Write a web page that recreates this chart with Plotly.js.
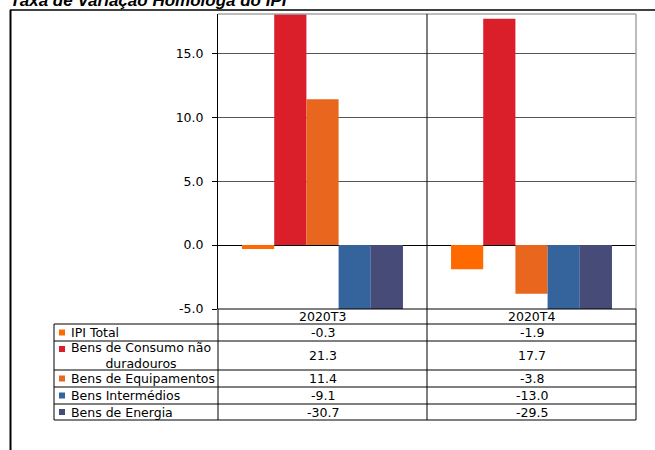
<!DOCTYPE html>
<html>
<head>
<meta charset="utf-8">
<script src="https://cdn.plot.ly/plotly-3.0.1.min.js"></script>
<style>html,body{margin:0;padding:0;background:#fff;}#chart{width:655px;height:450px;}</style>
</head>
<body>
<div id="chart"></div>
<script>
// ---- data ----
const categories = ['2020T3', '2020T4'];
const seriesNames = ['IPI Total', 'Bens de Consumo não duradouros', 'Bens de Equipamentos', 'Bens Intermédios', 'Bens de Energia'];
const tableLabels = ['IPI Total', 'Bens de Consumo não<br>duradouros', 'Bens de Equipamentos', 'Bens Intermédios', 'Bens de Energia'];
const ipiTotal = [-0.3, -1.9];
const bensConsumo = [21.3, 17.7];
const bensEquipamentos = [11.4, -3.8];
const bensIntermedios = [-9.1, -13.0];
const bensEnergia = [-30.7, -29.5];
const tickVals = [-5, 0, 5, 10, 15];
const titleText = 'Taxa de Variação Homóloga do IPI';
const colors = ['#FF6A00', '#DB1F2A', '#E9661F', '#35639B', '#474B78'];

const seriesValues = [ipiTotal, bensConsumo, bensEquipamentos, bensIntermedios, bensEnergia];

// ---- layout geometry (pixels) ----
const W = 655, H = 450;
const L = 218, R = 636, T = 14, B = 309;
const PW = R - L, PH = B - T;
const px = x => (x - L) / PW;
const py = y => (B - y) / PH;
const FONT = 'DejaVu Sans, Liberation Sans, Arial, sans-serif';
const FS = 12.5;

const traces = seriesValues.map((vals, i) => ({
  type: 'bar',
  name: seriesNames[i],
  x: categories,
  y: vals,
  marker: {color: colors[i], line: {width: 0}},
  hoverinfo: 'x+y+name'
}));

const shapes = [];
const annotations = [];
function line(x0, y0, x1, y1, color, width) {
  shapes.push({type: 'line', xref: 'paper', yref: 'paper', x0: px(x0), y0: py(y0), x1: px(x1), y1: py(y1),
    line: {color: color, width: width}, layer: 'above'});
}

// outer frame
line(10, 10, 655, 10, '#000', 1.5);
line(10.5, 10, 10.5, 450, '#000', 2);

// plot border top/right (grey)
line(L, T, R, T, '#A6A6A6', 1.5);
line(R, T, R, B, '#A6A6A6', 1.5);

// category divider (data coords between categories)
shapes.push({type: 'line', xref: 'x', yref: 'paper', x0: 0.5, x1: 0.5, y0: py(420), y1: py(T),
  line: {color: '#000', width: 1}, layer: 'above'});

// table
const rowEdges = [324, 341, 370, 387, 404, 420];
line(L, B, R, B, '#000', 1);
rowEdges.forEach(y => line(54, y, R, y, '#000', 1));
line(54, 324, 54, 420, '#000', 1);
line(L, B, L, 420, '#000', 1);
line(R, B, R, 420, '#000', 1);

// header labels
const colCenters = [322.5, 531.5];
categories.forEach((c, j) => {
  annotations.push({xref: 'paper', yref: 'paper', x: px(colCenters[j]), y: py(316.5), text: c,
    showarrow: false, xanchor: 'center', yanchor: 'middle', font: {family: FONT, size: FS, color: '#000'}});
});

// rows
for (let i = 0; i < seriesNames.length; i++) {
  const yc = (rowEdges[i] + rowEdges[i + 1]) / 2;
  const twoLine = tableLabels[i].indexOf('<br>') >= 0;
  const sqY = twoLine ? rowEdges[i] + 8 : yc;
  shapes.push({type: 'rect', xref: 'paper', yref: 'paper', x0: px(59), x1: px(65), y0: py(sqY - 3), y1: py(sqY + 3),
    fillcolor: colors[i], line: {width: 0}, layer: 'above'});
  if (twoLine) {
    annotations.push({xref: 'paper', yref: 'paper', x: px(141), y: py(yc), text: tableLabels[i],
      showarrow: false, xanchor: 'center', yanchor: 'middle', align: 'center',
      font: {family: FONT, size: FS, color: '#000'}});
  } else {
    annotations.push({xref: 'paper', yref: 'paper', x: px(69), y: py(yc), text: tableLabels[i],
      showarrow: false, xanchor: 'left', yanchor: 'middle', font: {family: FONT, size: FS, color: '#000'}});
  }
  seriesValues[i].forEach((v, j) => {
    annotations.push({xref: 'paper', yref: 'paper', x: px(colCenters[j]), y: py(yc), text: v.toFixed(1),
      showarrow: false, xanchor: 'center', yanchor: 'middle', font: {family: FONT, size: FS, color: '#000'}});
  });
}

// title (cut off at top, as in the reference)
annotations.push({xref: 'paper', yref: 'paper', x: px(8), y: py(0.5), text: '<b><i>' + titleText + '</i></b>',
  showarrow: false, xanchor: 'left', yanchor: 'middle',
  font: {family: 'Liberation Sans, Arial, sans-serif', size: 17, color: '#000'}});

const layout = {
  width: W, height: H,
  margin: {l: L, r: W - R, t: T, b: H - B, pad: 0},
  paper_bgcolor: '#fff', plot_bgcolor: '#fff',
  barmode: 'group', bargap: 0.23, bargroupgap: 0,
  showlegend: false,
  xaxis: {type: 'category', range: [-0.5, 1.5], showticklabels: false, showgrid: false, zeroline: false,
    showline: false, ticks: '', fixedrange: true},
  yaxis: {range: [-5, 18.07], tickvals: tickVals, ticktext: tickVals.map(v => v.toFixed(1)),
    showgrid: true, gridcolor: '#555', gridwidth: 1, zeroline: true, zerolinecolor: '#000', zerolinewidth: 1,
    showline: true, linecolor: '#000', linewidth: 1, ticks: 'outside', ticklen: 5, tickcolor: '#000',
    ticklabelstandoff: 6, tickfont: {family: FONT, size: FS, color: '#000'}, fixedrange: true},
  shapes: shapes,
  annotations: annotations
};

Plotly.newPlot('chart', traces, layout, {displayModeBar: false, staticPlot: true});
</script>
</body>
</html>
